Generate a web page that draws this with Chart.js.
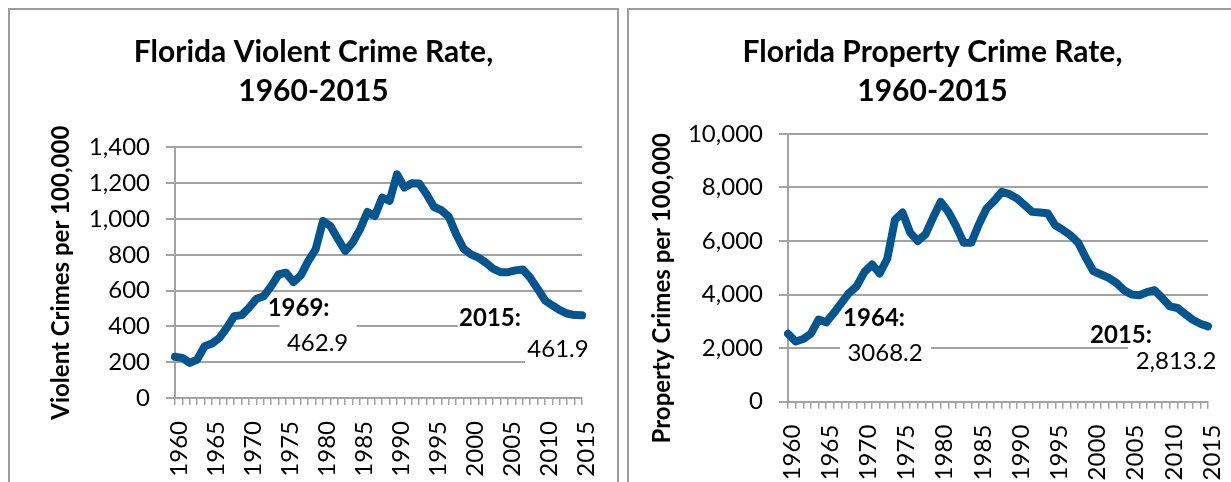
<!DOCTYPE html>
<html>
<head>
<meta charset="utf-8">
<script src="https://cdn.jsdelivr.net/npm/chart.js@4.4.1/dist/chart.umd.min.js"></script>
<style>
  html, body { margin: 0; padding: 0; background: #ffffff; width: 1231px; height: 482px; overflow: hidden; }
  .box { position: absolute; top: 8px; width: 607px; height: 490px; border: 2px solid #9c9c9c; background: #fff; }
  #boxL { left: 8px; }
  #boxR { left: 627px; }
  canvas { display: block; }
</style>
</head>
<body>
<div class="box" id="boxL"><canvas id="cL" width="607" height="472"></canvas></div>
<div class="box" id="boxR"><canvas id="cR" width="607" height="472"></canvas></div>
<script>
// ---- data ----
const years = [];
for (let y = 1960; y <= 2015; y++) years.push(String(y));

const violentRate = [230, 224, 196, 215, 289, 304, 336, 392, 457, 462.9,
  504, 554, 569, 625, 690, 700, 648, 685, 765, 830,
  989, 961, 890, 821, 868, 942, 1039, 1017, 1120, 1101,
  1250, 1176, 1200, 1198, 1138, 1067, 1049, 1013, 914, 834,
  802, 784, 756, 722, 703, 703, 713, 718, 672, 610,
  545, 517, 491, 472, 463, 461.9];

const propertyRate = [2538, 2250, 2340, 2540, 3068.2, 2963, 3313, 3688, 4063, 4313,
  4838, 5125, 4788, 5338, 6788, 7063, 6313, 6000, 6250, 6875,
  7463, 7088, 6563, 5938, 5938, 6625, 7213, 7500, 7838, 7750,
  7588, 7338, 7088, 7063, 7038, 6588, 6413, 6213, 5938, 5375,
  4875, 4750, 4625, 4438, 4163, 4000, 3975, 4088, 4163, 3875,
  3563, 3500, 3275, 3063, 2913, 2813.2];

const violentTicks = [0, 200, 400, 600, 800, 1000, 1200, 1400];
const propertyTicks = [0, 2000, 4000, 6000, 8000, 10000];

const violentCallouts = [
  { index: 9, head: '1969:', text: '462.9' },
  { index: 55, head: '2015:', text: '461.9' }
];
const propertyCallouts = [
  { index: 4, head: '1964:', text: '3068.2' },
  { index: 55, head: '2015:', text: '2,813.2' }
];

// ---- styling ----
const FONT = 'Lato, "Open Sans", sans-serif';
const GRID = '#a3a3a3';
const LINE = '#03558f';

const calloutPlugin = {
  id: 'callouts',
  beforeDatasetsDraw(chart, args, opts) {
    const ctx = chart.ctx;
    const xs = chart.scales.x, ys = chart.scales.y;
    const data = chart.data.datasets[0].data;
    ctx.save();
    ctx.fillStyle = '#ffffff';
    opts.items.forEach((it, k) => {
      const px = xs.getPixelForValue(it.index);
      const py = ys.getPixelForValue(data[it.index]);
      opts.layout[k].boxes.forEach(b => {
        ctx.fillRect(px + b[0], py + b[1], b[2] - b[0], b[3] - b[1]);
      });
    });
    ctx.restore();
  },
  afterDatasetsDraw(chart, args, opts) {
    const ctx = chart.ctx;
    const xs = chart.scales.x, ys = chart.scales.y;
    const data = chart.data.datasets[0].data;
    ctx.save();
    ctx.fillStyle = '#000';
    ctx.textAlign = 'center';
    ctx.textBaseline = 'middle';
    opts.items.forEach((it, k) => {
      const L = opts.layout[k];
      const px = xs.getPixelForValue(it.index);
      const py = ys.getPixelForValue(data[it.index]);
      ctx.font = 'bold 24px ' + FONT;
      ctx.fillText(it.head, px + L.head[0], py + L.head[1]);
      ctx.font = '24px ' + FONT;
      ctx.fillText(it.text, px + L.text[0], py + L.text[1]);
    });
    ctx.restore();
  }
};

function makeChart(id, cfg) {
  return new Chart(document.getElementById(id), {
    type: 'line',
    data: {
      labels: years,
      datasets: [{
        data: cfg.values,
        borderColor: LINE,
        borderWidth: 8,
        pointRadius: 0,
        tension: 0,
        fill: false,
        borderJoinStyle: 'round',
        borderCapStyle: 'round'
      }]
    },
    plugins: [calloutPlugin],
    options: {
      responsive: false,
      animation: false,
      devicePixelRatio: 1,
      layout: { padding: 0 },
      plugins: {
        legend: { display: false },
        tooltip: { enabled: false },
        title: {
          display: true,
          text: cfg.title,
          color: '#000',
          font: { family: FONT, size: 30, weight: 'bold', lineHeight: 1.29 },
          padding: { top: 23, bottom: cfg.titleBottom }
        },
        callouts: { items: cfg.callouts, layout: cfg.calloutLayout }
      },
      scales: {
        x: {
          type: 'category',
          offset: false,
          afterFit(scale) { scale.height = cfg.xHeight; },
          grid: { display: true, drawOnChartArea: false, drawTicks: true, tickLength: 7, color: GRID, lineWidth: 1.5 },
          border: { display: true, color: GRID, width: 2 },
          ticks: {
            autoSkip: false,
            minRotation: 90,
            maxRotation: 90,
            padding: 16,
            labelOffset: 4,
            color: '#000',
            font: { family: FONT, size: 24, lineHeight: 0.4 },
            callback(v, i) { const y = Number(years[i]); return y % 5 === 0 ? years[i] : ''; }
          }
        },
        y: {
          min: cfg.ticks[0],
          max: cfg.ticks[cfg.ticks.length - 1],
          afterFit(scale) { scale.width = cfg.yWidth; },
          afterBuildTicks(scale) { scale.ticks = cfg.ticks.map(v => ({ value: v })); },
          grid: { color: GRID, lineWidth: 2, tickLength: 9, drawTicks: true },
          border: { display: true, color: GRID, width: 2 },
          ticks: {
            padding: 16,
            color: '#000',
            font: { family: FONT, size: 24 },
            callback(v) { return Number(v).toLocaleString('en-US'); }
          },
          title: {
            display: true,
            text: cfg.yTitle,
            color: '#000',
            font: { family: FONT, size: 24, weight: 'bold', lineHeight: 1.2 },
            padding: { top: cfg.yTitlePad, bottom: 0 }
          }
        },
        spacer: {
          type: 'linear',
          position: 'right',
          display: true,
          min: 0,
          max: 1,
          afterFit(scale) { scale.width = cfg.padRight; },
          grid: { display: false },
          border: { display: false },
          ticks: { display: false }
        }
      }
    }
  });
}

makeChart('cL', {
  values: violentRate,
  ticks: violentTicks,
  title: ['Florida Violent Crime Rate,', '1960-2015'],
  yTitle: 'Violent Crimes per 100,000',
  padRight: 35,
  titleBottom: 37,
  xHeight: 84,
  yWidth: 165,
  yTitlePad: 36.6,
  callouts: violentCallouts,
  calloutLayout: [
    { head: [57, -7], text: [76, 28], boxes: [[38, -15, 115, 43]] },
    { head: [-92, 2.5], text: [-24, 33.5], boxes: [[-124, -10, 10, 20], [-57, 22, 10, 50]] }
  ]
});

makeChart('cR', {
  values: propertyRate,
  ticks: propertyTicks,
  title: ['Florida Property Crime Rate,', '1960-2015'],
  yTitle: 'Property Crimes per 100,000' + '\u00a0'.repeat(7),
  padRight: 28,
  titleBottom: 23.5,
  xHeight: 80.3,
  yWidth: 159,
  yTitlePad: 18.6,
  callouts: propertyCallouts,
  calloutLayout: [
    { head: [55.5, -1.5], text: [66.5, 34], boxes: [[21.5, 20, 112.5, 45]] },
    { head: [-87, 9], text: [-32, 35], boxes: [[-80, 13, 30, 45]] }
  ]
});
</script>
</body>
</html>
